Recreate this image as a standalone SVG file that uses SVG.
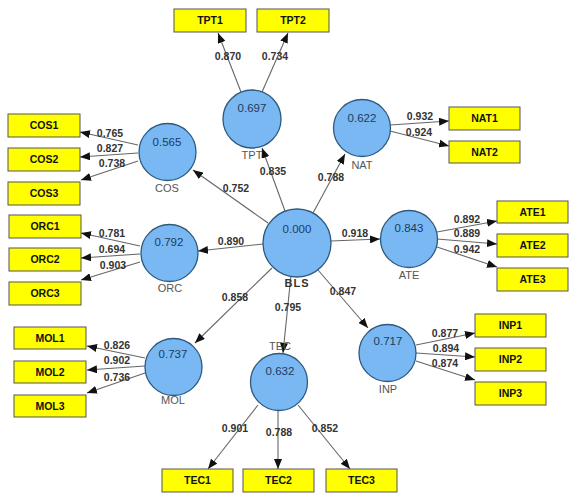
<svg xmlns="http://www.w3.org/2000/svg" width="578" height="496" viewBox="0 0 578 496">
<defs>
<marker id="ah" markerUnits="userSpaceOnUse" markerWidth="10" markerHeight="8" refX="10" refY="4" orient="auto">
<path d="M0,0 L10,4 L0,8 z" fill="#111"/>
</marker>
<style>
.lv circle{fill:#7ab8f4;stroke:#2e5a7c;stroke-width:1.3}
.lv .v{font:11.5px "Liberation Sans",Arial,sans-serif;fill:#1d3b5c;text-anchor:middle}
.lv .n{font:11px "Liberation Sans",Arial,sans-serif;fill:#555;text-anchor:middle}
.ind rect{fill:#ffff00;stroke:#555;stroke-width:1}
.ind text{font:bold 10.5px "Liberation Sans",Arial,sans-serif;fill:#111;text-anchor:middle}
#connectors line{stroke:#666;stroke-width:1.1;marker-end:url(#ah)}
#connectors text{font:bold 10.5px "Liberation Sans",Arial,sans-serif;fill:#333;text-anchor:middle}
</style>
</defs>
<rect width="578" height="496" fill="#fff"/>

<g id="connectors">
<!-- inner model -->
<line x1="285" y1="211" x2="262" y2="148"/>
<line x1="313" y1="213" x2="345" y2="154"/>
<line x1="268" y1="223" x2="193" y2="170"/>
<line x1="263" y1="244" x2="198" y2="251"/>
<line x1="331" y1="241" x2="380" y2="239"/>
<line x1="272" y1="268" x2="195" y2="343"/>
<line x1="291" y1="275" x2="283" y2="353"/>
<line x1="318" y1="270" x2="368" y2="328"/>
<text x="273" y="175">0.835</text>
<text x="331" y="181">0.788</text>
<text x="236" y="192">0.752</text>
<text x="231" y="245">0.890</text>
<text x="355" y="237">0.918</text>
<text x="235" y="301">0.858</text>
<text x="288" y="311">0.795</text>
<text x="343" y="295">0.847</text>
<!-- TPT -->
<line x1="241" y1="92" x2="218" y2="33"/>
<line x1="262" y1="92" x2="288" y2="33"/>
<text x="228" y="60">0.870</text>
<text x="275" y="60">0.734</text>
<!-- NAT -->
<line x1="390" y1="125" x2="449" y2="121"/>
<line x1="390" y1="131" x2="449" y2="146"/>
<text x="420" y="120">0.932</text>
<text x="419" y="136">0.924</text>
<!-- COS -->
<line x1="138" y1="145" x2="80" y2="132"/>
<line x1="138" y1="153" x2="80" y2="157"/>
<line x1="138" y1="161" x2="81" y2="180"/>
<text x="110" y="137">0.765</text>
<text x="110" y="152">0.827</text>
<text x="112" y="167">0.738</text>
<!-- ORC -->
<line x1="140" y1="246" x2="81" y2="233"/>
<line x1="140" y1="254" x2="81" y2="258"/>
<line x1="140" y1="262" x2="81" y2="280"/>
<text x="112" y="237">0.781</text>
<text x="112" y="253">0.694</text>
<text x="113" y="269">0.903</text>
<!-- MOL -->
<line x1="145" y1="358" x2="87" y2="346"/>
<line x1="145" y1="366" x2="87" y2="370"/>
<line x1="145" y1="373" x2="87" y2="393"/>
<text x="117" y="349">0.826</text>
<text x="117" y="364">0.902</text>
<text x="117" y="381">0.736</text>
<!-- TEC -->
<line x1="258" y1="405" x2="208" y2="469"/>
<line x1="278" y1="411" x2="278" y2="469"/>
<line x1="298" y1="405" x2="350" y2="469"/>
<text x="235" y="432">0.901</text>
<text x="279" y="436">0.788</text>
<text x="325" y="432">0.852</text>
<!-- INP -->
<line x1="416" y1="345" x2="475" y2="333"/>
<line x1="416" y1="353" x2="475" y2="357"/>
<line x1="416" y1="361" x2="475" y2="380"/>
<text x="445" y="337">0.877</text>
<text x="446" y="352">0.894</text>
<text x="445" y="367">0.874</text>
<!-- ATE -->
<line x1="437" y1="232" x2="497" y2="221"/>
<line x1="437" y1="239" x2="497" y2="244"/>
<line x1="437" y1="247" x2="497" y2="267"/>
<text x="467" y="223">0.892</text>
<text x="467" y="237">0.889</text>
<text x="467" y="253">0.942</text>
</g>

<g id="BLS" class="lv"><circle cx="297" cy="243" r="34"/><text class="v" x="297" y="233">0.000</text><text x="297" y="287" style="font:bold 11px 'Liberation Sans',Arial,sans-serif;fill:#333;text-anchor:middle;letter-spacing:1px">BLS</text></g>
<g id="TPT" class="lv"><circle cx="252" cy="119" r="29"/><text class="v" x="252" y="112">0.697</text><text class="n" x="252" y="159">TPT</text></g>
<g id="NAT" class="lv"><circle cx="362" cy="128" r="28.5"/><text class="v" x="362" y="122">0.622</text><text class="n" x="362" y="169">NAT</text></g>
<g id="COS" class="lv"><circle cx="167.5" cy="152" r="28.5"/><text class="v" x="167" y="146">0.565</text><text class="n" x="167" y="192">COS</text></g>
<g id="ORC" class="lv"><circle cx="169.5" cy="253" r="28.5"/><text class="v" x="169" y="246">0.792</text><text class="n" x="170" y="292">ORC</text></g>
<g id="ATE" class="lv"><circle cx="409" cy="239" r="28.5"/><text class="v" x="409" y="232">0.843</text><text class="n" x="409" y="279">ATE</text></g>
<g id="MOL" class="lv"><circle cx="173.5" cy="367" r="28.5"/><text class="v" x="173" y="358">0.737</text><text class="n" x="173" y="404">MOL</text></g>
<g id="TEC" class="lv"><circle cx="279" cy="382" r="28.5"/><text class="v" x="280" y="375">0.632</text><text class="n" x="280" y="350">TEC</text></g>
<g id="INP" class="lv"><circle cx="387.5" cy="353" r="28.5"/><text class="v" x="388" y="345">0.717</text><text class="n" x="388" y="393">INP</text></g>

<g id="TPT1" class="ind"><rect x="174" y="9" width="72" height="23"/><text x="210" y="24">TPT1</text></g>
<g id="TPT2" class="ind"><rect x="257" y="9" width="72" height="23"/><text x="293" y="24">TPT2</text></g>
<g id="NAT1" class="ind"><rect x="449" y="107" width="71" height="23"/><text x="484.5" y="122">NAT1</text></g>
<g id="NAT2" class="ind"><rect x="449" y="141" width="71" height="22"/><text x="484.5" y="156">NAT2</text></g>
<g id="COS1" class="ind"><rect x="8" y="114" width="72" height="23"/><text x="44" y="129">COS1</text></g>
<g id="COS2" class="ind"><rect x="8" y="148" width="72" height="23"/><text x="44" y="163">COS2</text></g>
<g id="COS3" class="ind"><rect x="8" y="182" width="72" height="23"/><text x="44" y="197">COS3</text></g>
<g id="ORC1" class="ind"><rect x="9" y="215" width="72" height="23"/><text x="45" y="230">ORC1</text></g>
<g id="ORC2" class="ind"><rect x="9" y="248" width="72" height="23"/><text x="45" y="263">ORC2</text></g>
<g id="ORC3" class="ind"><rect x="9" y="282" width="72" height="23"/><text x="45" y="297">ORC3</text></g>
<g id="MOL1" class="ind"><rect x="14" y="327" width="72" height="22"/><text x="50" y="342">MOL1</text></g>
<g id="MOL2" class="ind"><rect x="14" y="361" width="72" height="22"/><text x="50" y="376">MOL2</text></g>
<g id="MOL3" class="ind"><rect x="14" y="395" width="72" height="22"/><text x="50" y="410">MOL3</text></g>
<g id="TEC1" class="ind"><rect x="162" y="469" width="71" height="23"/><text x="197.5" y="484">TEC1</text></g>
<g id="TEC2" class="ind"><rect x="243" y="469" width="71" height="23"/><text x="278.5" y="484">TEC2</text></g>
<g id="TEC3" class="ind"><rect x="326" y="469" width="71" height="23"/><text x="361.5" y="484">TEC3</text></g>
<g id="INP1" class="ind"><rect x="475" y="314" width="71" height="23"/><text x="510.5" y="329">INP1</text></g>
<g id="INP2" class="ind"><rect x="475" y="348" width="71" height="23"/><text x="510.5" y="363">INP2</text></g>
<g id="INP3" class="ind"><rect x="475" y="382" width="71" height="23"/><text x="510.5" y="397">INP3</text></g>
<g id="ATE1" class="ind"><rect x="497" y="201" width="71" height="22"/><text x="532.5" y="216">ATE1</text></g>
<g id="ATE2" class="ind"><rect x="497" y="234" width="71" height="23"/><text x="532.5" y="249">ATE2</text></g>
<g id="ATE3" class="ind"><rect x="497" y="268" width="71" height="23"/><text x="532.5" y="283">ATE3</text></g>
</svg>
